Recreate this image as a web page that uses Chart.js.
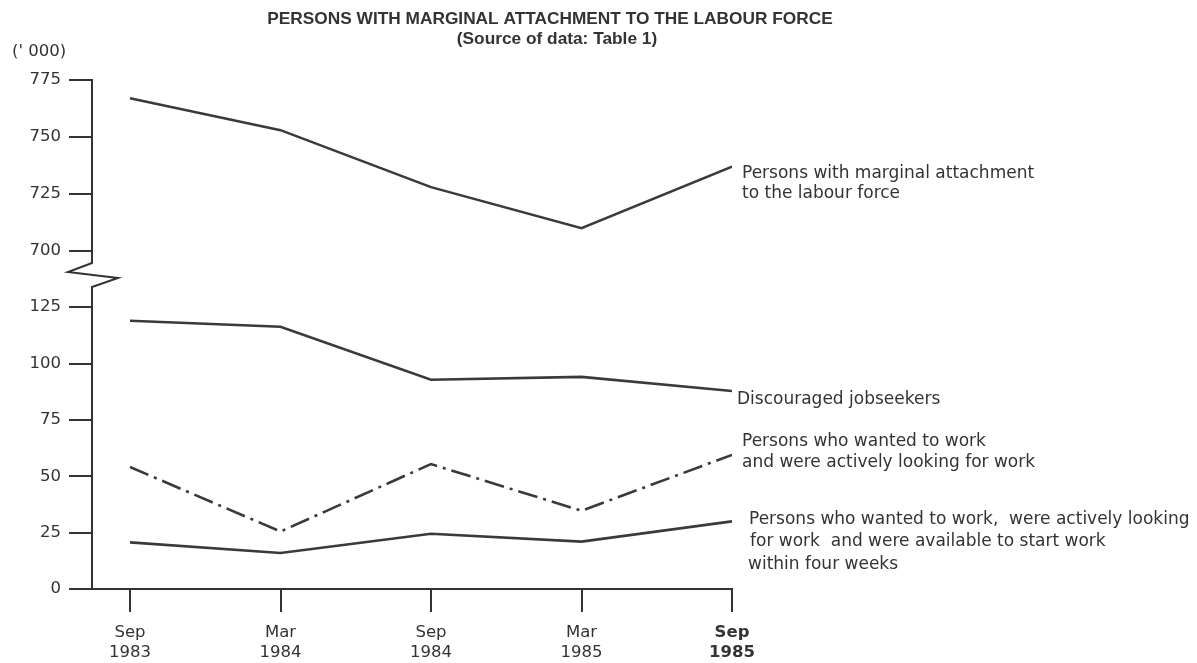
<!DOCTYPE html>
<html>
<head>
<meta charset="utf-8">
<script src="https://cdn.jsdelivr.net/npm/chart.js@4.4.1/dist/chart.umd.min.js"></script>
<style>
html,body{margin:0;padding:0;background:#ffffff;}
#wrap{width:1197px;height:663px;position:relative;}
</style>
</head>
<body>
<div id="wrap"><canvas id="c"></canvas></div>
<script>
// ---- data ----
const CATEGORIES = [['Sep','1983'],['Mar','1984'],['Sep','1984'],['Mar','1985'],['Sep','1985']];
const MARGINAL = [767, 753, 728, 710, 737];
const DISCOURAGED = [119, 116.3, 92.8, 94.1, 87.8];
const WANTED_LOOKING = [54.1, 25.5, 55.4, 34.7, 59.5];
const WANTED_LOOKING_AVAILABLE = [20.7, 16.0, 24.5, 21.0, 30.0];
const LOWER_TICKS = [0, 25, 50, 75, 100, 125];
const UPPER_TICKS = [700, 725, 750, 775];
const TITLE = 'PERSONS WITH MARGINAL ATTACHMENT TO THE LABOUR FORCE';
const SUBTITLE = '(Source of data: Table 1)';
const UNIT_LABEL = "(' 000)";
const SERIES_NOTES = [
  ['Persons with marginal attachment', 'to the labour force'],
  ['Discouraged jobseekers'],
  ['Persons who wanted to work', 'and were actively looking for work'],
  ['Persons who wanted to work,  were actively looking', 'for work  and were available to start work', 'within four weeks']
];

// ---- styling ----
const INK = '#333333';
const LINE = '#3a3a38';
const FONT = '"DejaVu Sans", sans-serif';
const NOTE_STYLE = [
  {dx: 10, dy: 6.5, lh: 20, xs: [0, 0]},
  {dx: 5, dy: 8.5, lh: 20, xs: [0]},
  {dx: 10, dy: -13, lh: 21, xs: [0, 0]},
  {dx: 17, dy: -2, lh: 22.5, xs: [0, 1, -1]}
];

const pts = arr => arr.map((v, i) => ({x: i, y: v}));

const decor = {
  id: 'decor',
  afterDraw(chart) {
    const {ctx, chartArea, scales} = chart;
    ctx.save();
    ctx.fillStyle = INK;
    ctx.font = 'bold 17.3px "Liberation Sans", Arial, sans-serif';
    ctx.textAlign = 'center';
    ctx.textBaseline = 'middle';
    ctx.fillText(TITLE, 550, 19);
    ctx.fillText(SUBTITLE, 557, 39);
    ctx.font = '16.5px ' + FONT;
    ctx.textAlign = 'left';
    ctx.fillText(UNIT_LABEL, 12, 52);

    // broken y axis line
    const L = chartArea.left;
    const top = scales.y2.getPixelForValue(UPPER_TICKS[UPPER_TICKS.length - 1]);
    const bottom = scales.y.getPixelForValue(LOWER_TICKS[0]);
    const b = scales.y2.getPixelForValue(UPPER_TICKS[0]);
    ctx.strokeStyle = INK;
    ctx.lineWidth = 2;
    ctx.lineJoin = 'miter';
    ctx.beginPath();
    ctx.moveTo(L, top - 1);
    ctx.lineTo(L, b + 12);
    ctx.lineTo(L - 24, b + 21);
    ctx.lineTo(L + 26, b + 27);
    ctx.lineTo(L, b + 36);
    ctx.lineTo(L, bottom + 1);
    ctx.stroke();

    // series notes
    ctx.font = '17px ' + FONT;
    ctx.textBaseline = 'middle';
    SERIES_NOTES.forEach((lines, i) => {
      const meta = chart.getDatasetMeta(i);
      const p = meta.data[meta.data.length - 1];
      const st = NOTE_STYLE[i];
      lines.forEach((t, j) => {
        ctx.fillText(t, chartArea.right + st.dx + st.xs[j], p.y + st.dy + j * st.lh);
      });
    });
    ctx.restore();
  }
};

const lineDs = (data, axis, dash) => ({
  data: data,
  yAxisID: axis,
  borderColor: LINE,
  borderWidth: 2.6,
  borderDash: dash || [],
  pointRadius: 0,
  tension: 0,
  fill: false
});

new Chart(document.getElementById('c'), {
  type: 'line',
  data: {
    datasets: [
      lineDs(pts(MARGINAL), 'y2'),
      lineDs(pts(DISCOURAGED), 'y'),
      lineDs(pts(WANTED_LOOKING), 'y', [20, 6, 3, 6]),
      lineDs(pts(WANTED_LOOKING_AVAILABLE), 'y')
    ]
  },
  options: {
    responsive: true,
    maintainAspectRatio: false,
    animation: false,
    devicePixelRatio: 1,
    layout: {padding: {top: 80, right: 465, bottom: 0, left: 0}},
    plugins: {legend: {display: false}, tooltip: {enabled: false}},
    scales: {
      x: {
        type: 'linear',
        min: -0.2525,
        max: CATEGORIES.length - 1,
        afterBuildTicks: s => { s.ticks = CATEGORIES.map((c, i) => ({value: i})); },
        afterFit: s => { s.height = 74; },
        border: {display: true, color: INK, width: 2},
        grid: {display: true, drawOnChartArea: false, drawTicks: true, tickLength: 23, color: INK, lineWidth: 2},
        ticks: {
          autoSkip: false, maxRotation: 0, padding: 11, color: INK,
          font: c => ({family: FONT, size: 16.5, weight: (c.index === CATEGORIES.length - 1) ? 'bold' : 'normal', lineHeight: 1.2}),
          callback: v => CATEGORIES[v]
        }
      },
      y: {
        type: 'linear',
        position: 'left',
        stack: 'ybreak',
        stackWeight: 310,
        min: 0,
        max: 137.5,
        afterBuildTicks: s => { s.ticks = LOWER_TICKS.map(v => ({value: v})); },
        afterFit: s => { s.width = 92; },
        border: {display: false},
        grid: {display: true, drawOnChartArea: false, drawTicks: true, tickLength: 23, color: INK, lineWidth: 2},
        ticks: {padding: 8, color: INK, font: {family: FONT, size: 16.5}}
      },
      y2: {
        type: 'linear',
        position: 'left',
        stack: 'ybreak',
        stackWeight: 199,
        min: 687.7,
        max: 775,
        afterBuildTicks: s => { s.ticks = UPPER_TICKS.map(v => ({value: v})); },
        afterFit: s => { s.width = 92; },
        border: {display: false},
        grid: {display: true, drawOnChartArea: false, drawTicks: true, tickLength: 23, color: INK, lineWidth: 2},
        ticks: {padding: 8, color: INK, font: {family: FONT, size: 16.5}}
      }
    }
  },
  plugins: [decor]
});
</script>
</body>
</html>
